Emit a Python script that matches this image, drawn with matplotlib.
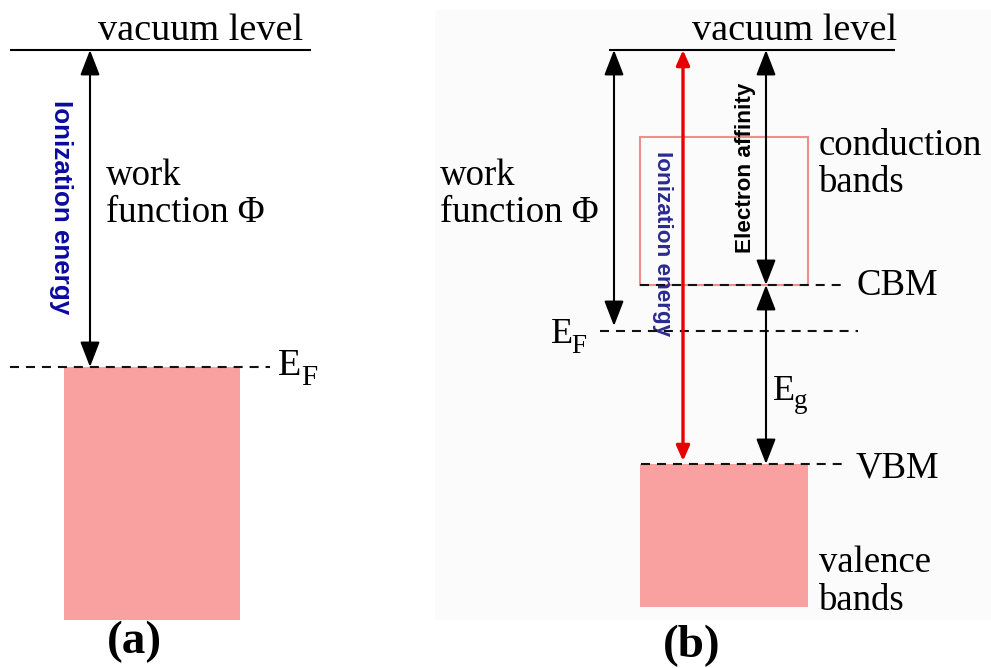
import matplotlib
matplotlib.use("Agg")
import matplotlib.pyplot as plt
from matplotlib.patches import Rectangle, FancyArrowPatch, ArrowStyle

plt.rcParams["lines.scale_dashes"] = False

SERIF = "Liberation Serif"
SANS = "Liberation Sans"

# ---- energy levels (pixel-style coordinates, y grows downward) ----
VACUUM = 50
# metal (panel a)
EF_METAL = 367
METAL_BAND_BOTTOM = 620
# semiconductor (panel b)
CBM = 285
EF_SEMI = 331
VBM = 464
VB_BOTTOM = 607
CB_TOP = 137

level_labels_a = ["vacuum level", "work\nfunction \u03a6", "Ionization energy"]
level_labels_b = ["vacuum level", "work\nfunction \u03a6", "Ionization energy",
                  "Electron affinity", "conduction\nbands", "CBM", "VBM",
                  "valence\nbands"]
panel_tags = ["(a)", "(b)"]

PINK = "#F9A1A0"
BOX_EDGE = "#F08E8E"
DASH = (0, (6.5, 5))

fig = plt.figure(figsize=(9.91, 6.68), dpi=100)
ax = fig.add_axes([0, 0, 1, 1])
ax.set_xlim(0, 991)
ax.set_ylim(668, 0)
ax.axis("off")


def arrow(x, y0, y1, color="black", lw=1.5, hl=15.5, hw=6.0):
    style = ArrowStyle("<|-|>", head_length=hl, head_width=hw)
    p = FancyArrowPatch((x, y0), (x, y1), arrowstyle=style, mutation_scale=1,
                        shrinkA=0, shrinkB=0, color=color, lw=lw, zorder=5)
    ax.add_patch(p)


def hline(y, x0, x1, dashed=False, lw=1.5, color="black"):
    ax.plot([x0, x1], [y, y], color=color, lw=lw,
            linestyle=DASH if dashed else "-", zorder=4,
            solid_capstyle="butt", dash_capstyle="butt")


def sub_label(x, y, main, sub, sub_dx, sub_dy=10, size=26, sub_size=19.5):
    ax.text(x, y, main, family=SERIF, fontsize=size, va="baseline")
    ax.text(x + sub_dx, y + sub_dy, sub, family=SERIF, fontsize=sub_size,
            va="baseline")


# ---------------- panel (a): metal ----------------
hline(VACUUM, 10, 311)
ax.text(98, 40, level_labels_a[0], family=SERIF, fontsize=27.5, va="baseline")

ax.add_patch(Rectangle((64, EF_METAL), 240 - 64, METAL_BAND_BOTTOM - EF_METAL,
                       facecolor=PINK, edgecolor="none", zorder=1))
hline(EF_METAL, 10, 270, dashed=True, lw=1.5, color="#111111")
sub_label(278, 375, "E", "F", 23, 10, size=27.5, sub_size=21)

arrow(90, VACUUM, EF_METAL)
ax.text(106, 185, "work", family=SERIF, fontsize=26.5, va="baseline")
ax.text(106, 222, "function \u03a6", family=SERIF, fontsize=26.5, va="baseline")
ax.text(61, 207, level_labels_a[2], family=SANS, fontweight="bold",
        fontsize=18.7, color="#0A0AA0", rotation=270, ha="center", va="center")

ax.text(134, 642, panel_tags[0], family=SERIF, fontweight="bold", fontsize=34,
        ha="center", va="center")

# ---------------- panel (b): semiconductor ----------------
ax.add_patch(Rectangle((435, 10), 991 - 435, 620 - 10, facecolor="#FBFBFB",
                       edgecolor="none", zorder=0))

hline(VACUUM, 609, 895)
ax.text(692, 40, level_labels_b[0], family=SERIF, fontsize=27.5, va="baseline")

# conduction band outline and valence band fill
ax.add_patch(Rectangle((640, CB_TOP), 808 - 640, CBM - CB_TOP, facecolor="none",
                       edgecolor=BOX_EDGE, lw=1.5, zorder=2))
ax.add_patch(Rectangle((640, VBM), 808 - 640, VB_BOTTOM - VBM,
                       facecolor=PINK, edgecolor="none", zorder=1))

hline(CBM, 640, 846, dashed=True, lw=1.5, color="#111111")
hline(EF_SEMI, 600, 858, dashed=True, lw=1.5, color="#111111")
hline(VBM, 641, 846, dashed=True, lw=1.5, color="#111111")

ax.text(856, 295, level_labels_b[5], family=SERIF, fontsize=26.5, va="baseline")
ax.text(856, 478, level_labels_b[6], family=SERIF, fontsize=26.5, va="baseline")
sub_label(551, 343, "E", "F", 20)
sub_label(773, 400, "E", "g", 21, 8)

ax.text(819, 155, "conduction", family=SERIF, fontsize=26.5, va="baseline")
ax.text(819, 192, "bands", family=SERIF, fontsize=26.5, va="baseline")
ax.text(819, 572, "valence", family=SERIF, fontsize=26.5, va="baseline")
ax.text(819, 610, "bands", family=SERIF, fontsize=26.5, va="baseline")

ax.text(440, 185, "work", family=SERIF, fontsize=26.5, va="baseline")
ax.text(440, 222, "function \u03a6", family=SERIF, fontsize=26.5, va="baseline")

arrow(614, VACUUM, EF_SEMI - 5)
arrow(683, VACUUM, VBM - 3, color="#E80000", lw=2.4, hl=9, hw=4)
arrow(766, VACUUM, CBM)
arrow(766, CBM, VBM)

ax.text(663, 244, level_labels_b[2], family=SANS, fontweight="bold",
        fontsize=16.2, color="#2B2B90", rotation=270, ha="center", va="center")
ax.text(746, 168, level_labels_b[3], family=SANS, fontweight="bold",
        fontsize=16.2, color="black", rotation=90, ha="center", va="center")

ax.text(692, 646, panel_tags[1], family=SERIF, fontweight="bold", fontsize=34,
        ha="center", va="center")

fig.savefig("out.png", dpi=100)
